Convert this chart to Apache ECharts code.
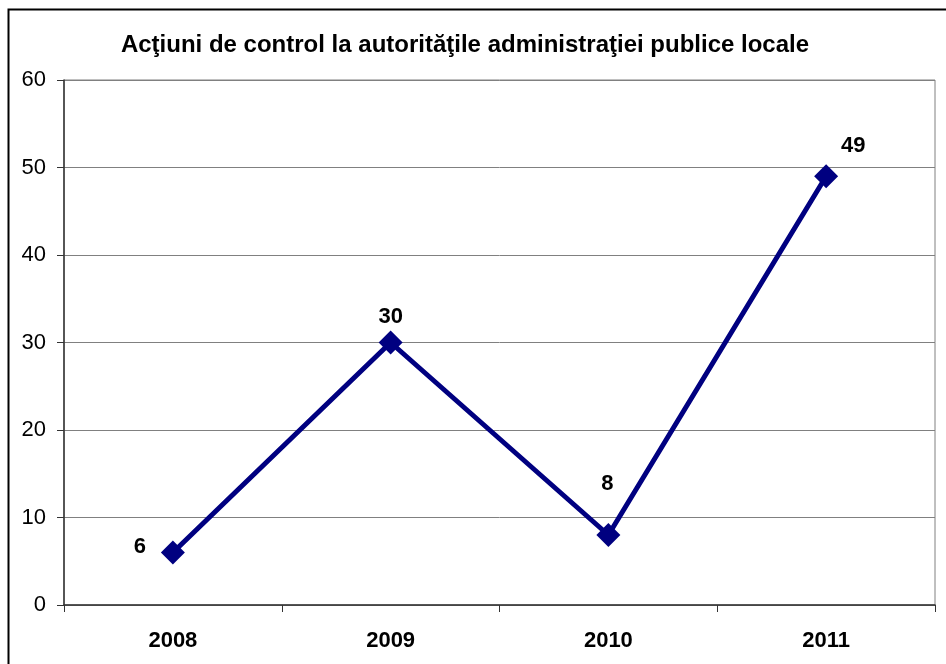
<!DOCTYPE html>
<html>
<head>
<meta charset="utf-8">
<script src="https://cdn.jsdelivr.net/npm/echarts@6/dist/echarts.min.js"></script>
<style>
  html, body { margin: 0; padding: 0; background: #fff; }
  #chart { width: 946px; height: 664px; }
</style>
</head>
<body>
<div id="chart"></div>
<script>
const years = ['2008', '2009', '2010', '2011']
const actions = [6, 30, 8, 49]
// label nudges per point (px), to sit where the original puts them
const labelOffsets = [[-33, -6], [0, -26], [-1, -51], [27, -30]]
const yTicks = { min: 0, max: 60, step: 10 }

const chart = echarts.init(document.getElementById('chart'))
const font = 'Liberation Sans, Arial, sans-serif'

chart.setOption({
  animation: false,
  title: {
    text: 'Acţiuni de control la autorităţile administraţiei publice locale',
    left: 460,
    top: 28,
    textAlign: 'center',
    textStyle: { fontFamily: font, fontSize: 24, fontWeight: 'bold', color: '#000' },
  },
  graphic: [
    {
      type: 'rect',
      shape: { x: 8.5, y: 9.5, width: 1000, height: 700 },
      style: { fill: 'none', stroke: '#000', lineWidth: 2 },
      silent: true,
    },
  ],
  grid: {
    left: 64, top: 80, width: 871, height: 525,
    show: true, borderColor: '#808080', borderWidth: 1,
  },
  xAxis: {
    type: 'category',
    data: years,
    boundaryGap: true,
    axisLine: { lineStyle: { color: '#333', width: 1.5 } },
    axisTick: { show: true, length: 7, inside: false, lineStyle: { color: '#333' } },
    axisLabel: { margin: 25, fontFamily: font, fontSize: 22, fontWeight: 'bold', color: '#000' },
    splitLine: { show: false },
  },
  yAxis: {
    type: 'value',
    min: yTicks.min,
    max: yTicks.max,
    interval: yTicks.step,
    axisLine: { show: true, lineStyle: { color: '#333', width: 1.5 } },
    axisTick: { show: true, length: 7, lineStyle: { color: '#333' } },
    axisLabel: { margin: 18, fontFamily: font, fontSize: 22, color: '#000' },
    splitLine: { lineStyle: { color: '#808080', width: 1 } },
  },
  series: [
    {
      type: 'line',
      data: actions.map((v, i) => ({
        value: v,
        label: { offset: labelOffsets[i] },
      })),
      symbol: 'diamond',
      symbolSize: 24,
      itemStyle: { color: '#000080' },
      lineStyle: { color: '#000080', width: 5 },
      label: {
        show: true,
        position: 'inside',
        fontFamily: font,
        fontSize: 22,
        fontWeight: 'bold',
        color: '#000',
      },
    },
  ],
})
</script>
</body>
</html>
